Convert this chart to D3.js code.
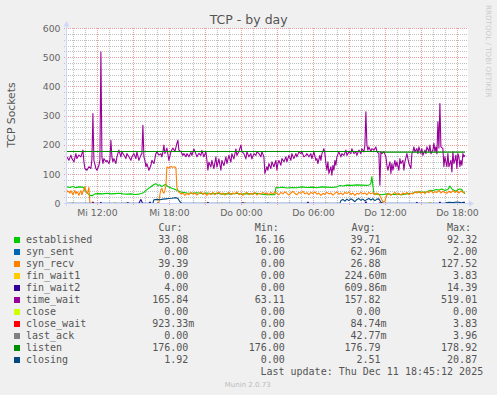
<!DOCTYPE html>
<html><head><meta charset="utf-8">
<script src="https://cdn.jsdelivr.net/npm/d3@7"></script>
<style>
html,body{margin:0;padding:0;background:#f0f0f0;}
svg{display:block;}
</style></head><body>
<svg id="c" width="497" height="395"></svg>
<script>
// ---- data: samples are [5-minute step index, value] ----
const startTime = Date.UTC(2025, 11, 10, 9, 27);   // first sample (Mi 09:27)
const stepMinutes = 5;
const stepCount = 400;

const established = [[0,57],[3,55],[6,58],[9,54],[12,57],[15,56],[17,55],[18,45],[20,38],[22,30],[24,27],[26,28],[28,33],[32,34],[36,33],[40,35],[44,33],[48,34],[52,35],[56,33],[60,32],[64,33],[68,31],[72,32],[75,35],[77,38],[79,45],[81,50],[83,55],[85,60],[87,65],[89,68],[91,62],[93,64],[95,58],[97,63],[99,65],[101,58],[103,55],[105,52],[107,50],[109,47],[111,44],[113,40],[116,38],[120,36],[125,35],[130,37],[135,34],[140,36],[145,33],[150,35],[155,32],[160,34],[165,33],[170,35],[175,32],[180,34],[185,33],[190,35],[195,32],[200,30],[205,31],[208,30],[209,55],[212,54],[216,56],[220,53],[225,55],[230,54],[235,57],[240,55],[245,56],[250,54],[255,57],[260,56],[265,55],[270,57],[273,62],[276,60],[280,63],[285,62],[290,64],[295,63],[300,62],[303,64],[304,70],[305,92],[306,60],[307,34],[310,32],[315,30],[320,33],[325,31],[330,32],[335,30],[340,33],[345,35],[348,38],[352,40],[356,38],[360,40],[363,45],[366,44],[369,48],[372,46],[375,50],[378,45],[381,48],[383,60],[385,50],[387,45],[389,42],[391,47],[393,50],[395,48],[396,40],[398,33]];

const synSent = [[0,0],[200,0],[201,2],[202,0],[398,0]];

const synRecv = [[0,45],[1,40],[2,42],[3,35],[4,44],[5,38],[6,30],[7,38],[8,45],[9,33],[10,40],[11,36],[12,28],[13,38],[14,44],[15,30],[16,40],[17,48],[18,58],[19,45],[20,35],[21,40],[22,55],[23,0],[92,0],[93,30],[94,48],[95,52],[96,40],[97,35],[98,45],[99,60],[100,125],[102,122],[104,127],[106,124],[108,126],[109,122],[110,55],[111,45],[112,38],[114,33],[116,36],[118,28],[120,35],[122,30],[124,38],[126,32],[128,36],[130,29],[132,34],[134,40],[136,31],[138,36],[140,28],[142,35],[144,31],[146,38],[148,30],[150,35],[152,40],[154,32],[156,36],[158,29],[160,34],[162,38],[164,30],[166,36],[168,33],[170,40],[172,30],[174,35],[176,28],[178,34],[180,38],[182,30],[184,35],[186,31],[188,38],[190,29],[192,35],[194,32],[196,38],[198,33],[200,36],[202,30],[204,38],[206,32],[208,40],[210,34],[212,30],[214,38],[216,33],[218,40],[220,35],[222,29],[224,36],[226,42],[228,34],[230,30],[232,38],[234,35],[236,42],[238,33],[240,37],[242,30],[244,38],[246,34],[248,40],[250,32],[252,36],[254,28],[256,35],[258,31],[260,38],[262,33],[264,36],[266,29],[268,35],[270,40],[272,32],[274,36],[276,30],[278,38],[280,34],[282,40],[284,31],[286,36],[288,28],[290,35],[292,32],[294,38],[296,33],[298,36],[300,30],[302,38],[304,33],[306,37],[308,30],[310,36],[312,32],[314,20],[316,5],[318,8],[320,30],[322,35],[324,28],[326,33],[328,38],[330,30],[332,35],[334,29],[336,36],[338,32],[340,38],[342,30],[344,35],[346,33],[348,40],[350,36],[352,42],[354,35],[356,40],[358,34],[360,42],[362,37],[364,44],[366,36],[368,40],[370,38],[372,45],[374,36],[376,42],[378,38],[380,35],[382,42],[384,37],[386,44],[388,38],[390,42],[392,36],[394,43],[396,38],[398,39]];

const finWait1 = [[0,0],[5,0],[6,3],[7,0],[47,0],[48,3],[49,0],[58,0],[59,2],[60,0],[137,0],[138,3],[139,0],[154,0],[155,2],[156,0],[177,0],[178,3.8],[179,0],[259,0],[260,2],[261,0],[362,0],[363,3],[364,2],[365,0],[398,0]];

const finWait2 = [[0,0],[25,0],[26,5],[27,0],[33,0],[34,4],[35,0],[60,0],[61,3],[62,0],[72,0],[73,8],[74,14],[75,6],[76,0],[82,0],[83,5],[84,0],[140,0],[141,4],[142,0],[175,0],[176,3],[177,0],[240,0],[241,5],[242,0],[298,0],[299,6],[300,0],[349,0],[350,4],[351,0],[372,0],[373,5],[374,0],[395,0],[396,4],[398,4]];

const timeWait = [[0,160],[2,148],[4,166],[5,154],[7,143],[9,171],[10,154],[12,166],[14,160],[15,171],[16,183],[17,143],[18,120],[20,114],[22,126],[24,120],[25,150],[26,308],[27,148],[29,120],[30,114],[32,130],[33,150],[34,519],[35,160],[36,137],[37,154],[39,143],[40,148],[42,137],[43,150],[44,217],[45,160],[46,143],[47,154],[49,137],[50,160],[52,183],[54,160],[55,177],[57,166],[59,154],[60,171],[62,160],[64,148],[65,160],[67,171],[69,154],[70,177],[72,148],[74,166],[75,171],[76,268],[77,160],[78,148],[79,126],[80,137],[82,114],[84,131],[85,148],[87,137],[89,171],[90,177],[92,166],[94,171],[95,160],[96,177],[97,200],[98,171],[100,190],[102,148],[104,178],[106,190],[108,178],[110,206],[111,217],[112,183],[114,178],[116,165],[117,171],[119,160],[120,171],[122,160],[124,175],[125,165],[127,187],[129,170],[130,160],[132,172],[134,165],[135,182],[137,160],[139,178],[140,148],[141,114],[142,142],[144,125],[145,148],[147,120],[149,160],[150,125],[152,153],[154,114],[155,148],[157,130],[159,160],[160,137],[162,165],[164,142],[165,171],[167,153],[169,187],[170,165],[172,178],[174,200],[175,178],[177,171],[179,153],[180,178],[182,160],[184,171],[185,153],[187,171],[189,165],[190,178],[192,171],[194,160],[195,178],[197,160],[198,103],[200,126],[201,114],[202,137],[204,120],[205,143],[207,126],[209,148],[210,114],[211,137],[212,148],[214,131],[215,154],[217,143],[219,160],[220,143],[222,165],[224,148],[225,171],[227,154],[229,171],[230,160],[232,177],[234,171],[235,177],[237,160],[239,165],[240,171],[242,160],[244,171],[245,154],[247,177],[249,148],[250,154],[251,137],[253,165],[254,148],[255,171],[257,188],[258,171],[259,137],[260,114],[261,143],[262,103],[264,126],[265,97],[266,131],[267,114],[268,148],[269,131],[270,160],[272,177],[274,160],[275,171],[277,165],[279,183],[280,165],[282,177],[284,171],[285,188],[287,171],[289,177],[290,165],[292,183],[294,171],[295,188],[297,177],[298,200],[299,314],[300,200],[301,183],[302,194],[304,178],[305,188],[307,183],[309,194],[310,178],[312,171],[313,63],[314,178],[315,171],[317,178],[319,160],[320,131],[321,114],[323,143],[324,103],[325,137],[326,114],[328,148],[329,126],[330,143],[332,114],[333,154],[334,137],[336,148],[337,114],[338,143],[340,171],[341,154],[342,137],[344,120],[345,171],[346,178],[347,194],[348,178],[350,188],[351,171],[352,194],[354,171],[355,188],[356,165],[358,183],[359,171],[360,194],[362,178],[363,200],[364,171],[366,183],[367,206],[368,178],[369,194],[370,170],[371,280],[372,190],[373,343],[374,194],[376,188],[377,126],[378,160],[380,126],[381,171],[382,126],[384,148],[385,108],[386,177],[387,137],[388,148],[389,166],[390,120],[391,171],[392,160],[393,126],[394,148],[395,131],[396,171],[397,160],[398,166]];

const closeState = [[0,0],[398,0]];
const closeWait = [[0,0],[25,0],[26,3.8],[27,0],[312,0],[313,3],[314,0],[386,0],[387,2],[388,0],[397,0],[398,0.9]];
const lastAck = [[0,0],[90,0],[91,4],[92,0],[398,0]];
const listen = [[0,178.5],[312,178.5],[313,176],[398,176]];
const closing = [[0,0.5],[86,0.5],[87,13],[90,14],[93,13],[96,15],[99,16],[102,17],[105,18],[108,20],[110,19],[111,17],[113,6],[115,0.5],[273,0.5],[274,10],[276,14],[278,8],[280,15],[282,10],[284,16],[286,12],[288,6],[290,14],[292,17],[294,11],[296,15],[298,9],[300,14],[302,17],[304,12],[306,16],[308,10],[310,15],[312,16],[314,4],[316,0.5],[378,0.5],[380,3],[382,4],[386,3],[390,5],[394,3],[398,2]];

const seriesNames  = ["established","syn_sent","syn_recv","fin_wait1","fin_wait2","time_wait","close","close_wait","last_ack","listen","closing"];
const seriesColors = ["#00CC00","#0066B3","#FF8000","#FFCC00","#330099","#990099","#CCFF00","#FF0000","#808080","#008F00","#00487D"];
const seriesData   = [established, synSent, synRecv, finWait1, finWait2, timeWait, closeState, closeWait, lastAck, listen, closing];
const curValues = ["33.08","0.00","39.39","0.00","4.00","165.84","0.00","923.33m","0.00","176.00","1.92"];
const minValues = ["16.16","0.00","0.00","0.00","0.00","63.11","0.00","0.00","0.00","176.00","0.00"];
const avgValues = ["39.71","62.96m","26.88","224.60m","609.86m","157.82","0.00","84.74m","42.77m","176.79","2.51"];
const maxValues = ["92.32","2.00","127.52","3.83","14.39","519.01","0.00","3.83","3.96","178.92","20.87"];
const yTicks = [0,100,200,300,400,500,600];
const dayNames = ["So","Mo","Di","Mi","Do","Fr","Sa"];

// ---- drawing ----
const svg = d3.select("#c");
const W = 497, H = 395;
const L = 66.9, R = 466.9, T = 28.5, B = 203.5;
const endTime = startTime + stepCount * stepMinutes * 60000;
const x = d3.scaleUtc().domain([new Date(startTime), new Date(endTime)]).range([L, R]);
const y = d3.scaleLinear().domain([0, 600]).range([B, T]);
const tAt = i => new Date(startTime + i * stepMinutes * 60000);

svg.append("rect").attr("width", W).attr("height", H).attr("fill", "#f0f0f0");
svg.append("rect").attr("x", 67).attr("y", 28).attr("width", 401).attr("height", 176).attr("fill", "#ffffff");

const grid = svg.append("g");
const minorCol = "#c0c0c0", majorCol = "#ec9e9e";
// horizontal grid
d3.range(20, 601, 20).forEach(v => {
  const major = v % 100 === 0;
  const yy = Math.round(y(v) - 0.5) + 0.5;
  grid.append("line").attr("x1", 64).attr("x2", 468).attr("y1", yy).attr("y2", yy)
    .attr("stroke", major ? majorCol : minorCol).attr("stroke-width", 1).attr("stroke-dasharray", "1,1");
});
// vertical grid
const hours = d3.utcHour.range(new Date(startTime), new Date(endTime + 20 * 60000));
hours.forEach(h => {
  const xx = Math.round(x(h) - 0.5) + 0.5;
  if (xx > 468) return;
  const major = h.getUTCHours() % 3 === 0;
  grid.append("line").attr("x1", xx).attr("x2", xx).attr("y1", 28).attr("y2", major ? 206 : 203)
    .attr("stroke", major ? majorCol : minorCol).attr("stroke-width", 1).attr("stroke-dasharray", "1,1");
});

// series
svg.append("clipPath").attr("id", "pc").append("rect").attr("x", 67).attr("y", 27).attr("width", 401).attr("height", 177);
const line = d3.line().x(d => x(tAt(d[0]))).y(d => y(d[1]));
const gl = svg.append("g").attr("clip-path", "url(#pc)");
seriesData.forEach((s, k) => {
  gl.append("path").attr("d", line(s)).attr("fill", "none").attr("stroke", seriesColors[k])
    .attr("stroke-width", 1.1).attr("stroke-linejoin", "round");
});

// axes
const axisCol = "#CFD6F8";
svg.append("line").attr("x1", 64).attr("x2", 470).attr("y1", 203.5).attr("y2", 203.5).attr("stroke", axisCol);
svg.append("line").attr("x1", 66.5).attr("x2", 66.5).attr("y1", 206).attr("y2", 26).attr("stroke", axisCol);
svg.append("path").attr("d", "M474,203.5 L469,200.5 L469,206.5 Z").attr("fill", axisCol);
svg.append("path").attr("d", "M66.5,21 L63.5,26.5 L69.5,26.5 Z").attr("fill", axisCol);

const sans = "'DejaVu Sans', Verdana, sans-serif";
const mono = "'DejaVu Sans Mono', monospace";
const fontCol = "#666666";

// y tick labels
yTicks.forEach(v => {
  svg.append("text").attr("x", 60.5).attr("y", y(v) + 3.3).attr("text-anchor", "end")
    .attr("font-family", sans).attr("font-size", 9.3).attr("fill", fontCol).text(v);
});
// x tick labels
x.ticks(d3.utcHour.every(6)).forEach(t => {
  svg.append("text").attr("x", Math.round(x(t) - 0.5) + 0.5).attr("y", 215.5).attr("text-anchor", "middle")
    .attr("font-family", sans).attr("font-size", 9.3).attr("fill", fontCol)
    .text(dayNames[t.getUTCDay()] + " " + d3.utcFormat("%H:%M")(t));
});

// title, axis label, side text
svg.append("text").attr("x", 248.7).attr("y", 24).attr("text-anchor", "middle")
  .attr("font-family", sans).attr("font-size", 12.5).attr("fill", "#555").text("TCP - by day");
svg.append("text").attr("transform", "translate(15.3,115) rotate(-90)").attr("text-anchor", "middle")
  .attr("font-family", sans).attr("font-size", 10.8).attr("fill", "#555").text("TCP Sockets");
svg.append("text").attr("transform", "translate(486.3,5) rotate(90)").attr("text-anchor", "start")
  .attr("font-family", sans).attr("font-size", 7.2).attr("fill", "#cccccc").text("RRDTOOL / TOBI OETIKER");

// legend
const legCol = "#555555";
const hdr = [["Cur:", 182.5], ["Min:", 278.8], ["Avg:", 375.5], ["Max:", 471]];
hdr.forEach(h => svg.append("text").attr("x", h[1]).attr("y", 231).attr("text-anchor", "end")
  .attr("font-family", mono).attr("font-size", 10).attr("fill", legCol).text(h[0]));
const colEnds = [188.3, 284.8, 380.6, 477.2];
const cols = [curValues, minValues, avgValues, maxValues];
seriesNames.forEach((n, i) => {
  const by = 243 + i * 12;
  svg.append("rect").attr("x", 14).attr("y", by - 6).attr("width", 6).attr("height", 6).attr("fill", seriesColors[i]);
  svg.append("text").attr("x", 26).attr("y", by).attr("font-family", mono).attr("font-size", 10)
    .attr("fill", legCol).text(n);
  cols.forEach((c, j) => {
    const m = c[i].match(/^([\d.]+)(\D*)$/);
    svg.append("text").attr("x", colEnds[j]).attr("y", by).attr("text-anchor", "end")
      .attr("font-family", mono).attr("font-size", 10).attr("fill", legCol).text(m[1]);
    if (m[2]) svg.append("text").attr("x", colEnds[j]).attr("y", by).attr("font-family", mono)
      .attr("font-size", 10).attr("fill", legCol).text(m[2]);
  });
});
svg.append("text").attr("x", 483.2).attr("y", 375).attr("text-anchor", "end")
  .attr("font-family", mono).attr("font-size", 10).attr("fill", legCol)
  .text("Last update: Thu Dec 11 18:45:12 2025");
svg.append("text").attr("x", 247.7).attr("y", 386.5).attr("text-anchor", "middle")
  .attr("font-family", sans).attr("font-size", 7).attr("fill", "#bbbbbb").text("Munin 2.0.73");
</script>
</body></html>
